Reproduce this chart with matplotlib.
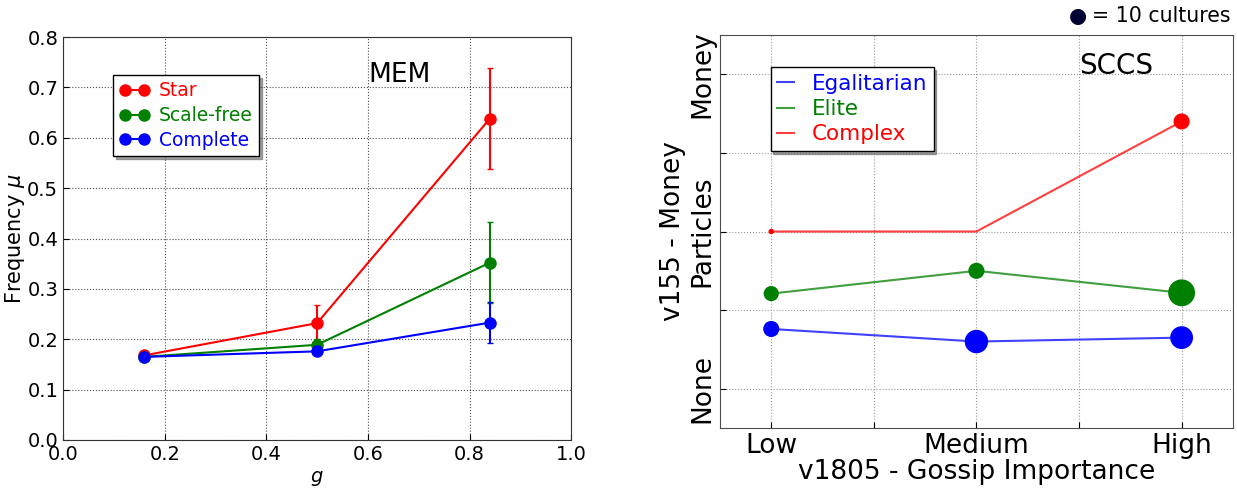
import matplotlib
matplotlib.use("Agg")
import matplotlib.pyplot as plt
import numpy as np

# ---- Left panel data (MEM) ----
g_values = [0.16, 0.50, 0.84]
star_mu = [0.168, 0.232, 0.638]
star_err = [0.004, 0.035, 0.100]
scalefree_mu = [0.165, 0.189, 0.352]
scalefree_err = [0.003, 0.012, 0.081]
complete_mu = [0.165, 0.176, 0.233]
complete_err = [0.003, 0.004, 0.040]

# ---- Right panel data (SCCS) ----
gossip_levels = ["Low", "Medium", "High"]
egalitarian = [0.76, 0.60, 0.65]
egalitarian_n = [8, 18, 17]
elite = [1.21, 1.50, 1.22]
elite_n = [7, 8, 24]
complex_ = [2.0, 2.0, 3.4]
complex_n = [0.6, 0.0, 8]
y_ticklabels = ["None", "", "Particles", "", "Money"]
x_ticklabels = ["Low", "", "Medium", "", "High"]

fig = plt.figure(figsize=(12.37, 4.91), dpi=100)

# ================= Left panel =================
ax1 = fig.add_axes([0.051, 0.1039, 0.4107, 0.8207])
series = [("Star", star_mu, star_err, "red"),
          ("Scale-free", scalefree_mu, scalefree_err, "green"),
          ("Complete", complete_mu, complete_err, "blue")]
for name, mu, err, c in series:
    ax1.errorbar(g_values, mu, yerr=err, color=c, fmt="none", linewidth=1.5,
                 capsize=2)
    ax1.plot(g_values, mu, color=c, marker="o", markersize=8,
             markeredgecolor=c, linewidth=1.5, label=name)
ax1.set_xlim(0, 1.0)
ax1.set_ylim(0, 0.8)
ax1.set_xticks(np.arange(0, 1.01, 0.2))
ax1.set_yticks(np.arange(0, 0.81, 0.1))
ax1.grid(True, linestyle=":", color="0.3", linewidth=0.8)
ax1.tick_params(labelsize=14, direction="in", length=4)
ax1.set_xlabel("$g$", fontsize=14)
ax1.set_ylabel("Frequency $\\mu$", fontsize=15, labelpad=0)
ax1.text(0.6, 0.71, "MEM", fontsize=19)
leg1 = ax1.legend(loc="upper left", bbox_to_anchor=(0.098, 0.906), fontsize=13.5,
                  shadow=True, fancybox=False, numpoints=2, handlelength=1.6,
                  borderpad=0.35, labelspacing=0.3, handletextpad=0.5,
                  borderaxespad=0)
leg1.get_frame().set_edgecolor("black")
for t, (_, _, _, c) in zip(leg1.get_texts(), series):
    t.set_color(c)
for s in ax1.spines.values():
    s.set_color("0.2")

# ================= Right panel =================
ax2 = fig.add_axes([0.582, 0.1283, 0.4147, 0.8004])
xpos = [0, 1, 2]
size_scale = 14
rseries = [("Egalitarian", egalitarian, egalitarian_n, "blue"),
           ("Elite", elite, elite_n, "green"),
           ("Complex", complex_, complex_n, "red")]
for name, vals, ns, c in rseries:
    ax2.plot(xpos, vals, color=c, linewidth=1.5, alpha=0.75, label=name)
    ax2.scatter(xpos, vals, s=[n * size_scale for n in ns], color=c, zorder=3)
ax2.set_xlim(-0.25, 2.25)
ax2.set_ylim(-0.5, 4.5)
ax2.set_xticks([0, 0.5, 1, 1.5, 2])
ax2.set_xticklabels(x_ticklabels, fontsize=19)
ax2.set_yticks([0, 1, 2, 3, 4])
ax2.set_yticklabels(y_ticklabels, fontsize=19, rotation=90, va="center")
ax2.grid(True, linestyle=":", color="0.6", linewidth=0.8)
ax2.tick_params(direction="in", length=4)
ax2.set_xlabel("v1805 - Gossip Importance", fontsize=19, labelpad=0)
ax2.set_ylabel("v155 - Money", fontsize=19, labelpad=2)
ax2.text(1.5, 4.0, "SCCS", fontsize=20)
leg2 = ax2.legend(loc="upper left", bbox_to_anchor=(0.099, 0.918), fontsize=15.5,
                  shadow=True, fancybox=False, handlelength=0.8,
                  borderpad=0.3, labelspacing=0.25, handletextpad=0.8,
                  borderaxespad=0)
leg2.get_frame().set_edgecolor("black")
for t, (_, _, _, c) in zip(leg2.get_texts(), rseries):
    t.set_color(c)
for s in ax2.spines.values():
    s.set_color("0.3")

# size key
fig.text(0.864, 0.968, "\u25CF", fontsize=15, color="#000033", va="center")
fig.text(0.883, 0.968, "= 10 cultures", fontsize=14.8, va="center")

fig.savefig("out.png", dpi=100)
